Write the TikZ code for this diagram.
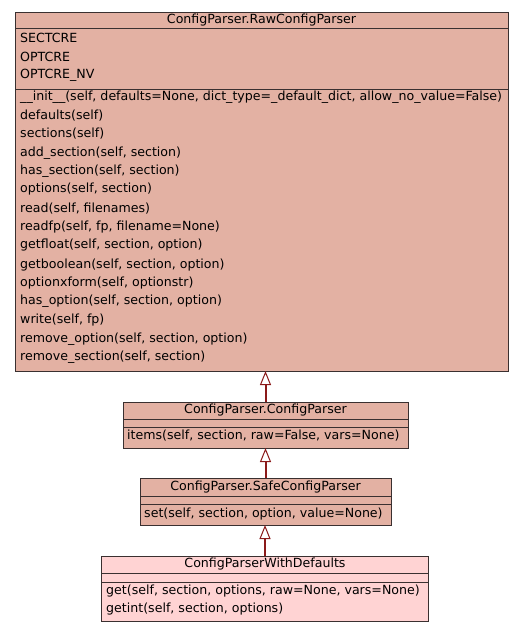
\documentclass[tikz,border=0pt]{standalone}
\usepackage{fontspec}
\setmainfont{DejaVu Sans}
\usetikzlibrary{arrows.meta}
\definecolor{clsfill}{HTML}{E3B1A3}
\definecolor{clspink}{HTML}{FFD3D3}
\definecolor{edgecol}{HTML}{8B1A1A}
\definecolor{bordercol}{HTML}{3A3030}
\begin{document}
\begin{tikzpicture}[x=1pt,y=-1pt,
  font=\fontsize{12.6}{14}\selectfont,
  clsbox/.style={draw=bordercol,line width=1pt,fill=clsfill,anchor=north west,inner sep=0pt,outer sep=0pt},
  divider/.style={draw=bordercol,line width=1pt},
  lbl/.style={anchor=west,inner sep=0pt,text=black},
  ttl/.style={anchor=center,inner sep=0pt,text=black},
  inherit/.style={draw=edgecol,line width=2pt,-{Triangle[open,length=14pt,width=11pt,line width=1pt,fill=white]}}]
\useasboundingbox (0,0) rectangle (528,632);
\fill[white] (0,0) rectangle (528,632);
% Box 1
\node[clsbox,minimum width=493pt,minimum height=359pt] (raw) at (15,12) {};
\draw[divider] (15,28) -- (508,28);
\draw[divider] (15,89) -- (508,89);
\node[ttl] (rawt) at (261.5,20) {ConfigParser.RawConfigParser};
\node[lbl] (a1) at (20,38) {SECTCRE};
\node[lbl] (a2) at (20,57) {OPTCRE};
\node[lbl] (a3) at (20,75) {OPTCRE\_NV};
\node[lbl] (m1) at (20,97) {\_\_init\_\_(self, defaults=None, dict\_type=\_default\_dict, allow\_no\_value=False)};
\node[lbl] (m2) at (20,116) {defaults(self)};
\node[lbl] (m3) at (20,134) {sections(self)};
\node[lbl] (m4) at (20,153) {add\_section(self, section)};
\node[lbl] (m5) at (20,171) {has\_section(self, section)};
\node[lbl] (m6) at (20,189) {options(self, section)};
\node[lbl] (m7) at (20,209) {read(self, filenames)};
\node[lbl] (m8) at (20,227) {readfp(self, fp, filename=None)};
\node[lbl] (m9) at (20,245) {getfloat(self, section, option)};
\node[lbl] (m10) at (20,265) {getboolean(self, section, option)};
\node[lbl] (m11) at (20,283) {optionxform(self, optionstr)};
\node[lbl] (m12) at (20,301) {has\_option(self, section, option)};
\node[lbl] (m13) at (20,320) {write(self, fp)};
\node[lbl] (m14) at (20,339) {remove\_option(self, section, option)};
\node[lbl] (m15) at (20,357) {remove\_section(self, section)};
% Box 2
\node[clsbox,minimum width=285pt,minimum height=46pt] (cp) at (123,402) {};
\draw[divider] (123,419) -- (408,419);
\draw[divider] (123,427) -- (408,427);
\node[ttl] (cpt) at (265.5,410) {ConfigParser.ConfigParser};
\node[lbl] (cpm) at (127,436) {items(self, section, raw=False, vars=None)};
% Box 3
\node[clsbox,minimum width=251pt,minimum height=47pt] (scp) at (140,478) {};
\draw[divider] (140,496) -- (391,496);
\draw[divider] (140,504) -- (391,504);
\node[ttl] (scpt) at (265.5,487) {ConfigParser.SafeConfigParser};
\node[lbl] (scpm) at (144,514) {set(self, section, option, value=None)};
% Box 4
\node[clsbox,fill=clspink,minimum width=327pt,minimum height=65pt] (cpd) at (101.5,556) {};
\draw[divider] (101.5,573) -- (428.5,573);
\draw[divider] (101.5,582) -- (428.5,582);
\node[ttl] (cpdt) at (265,564) {ConfigParserWithDefaults};
\node[lbl] (cpdm1) at (106,591) {get(self, section, options, raw=None, vars=None)};
\node[lbl] (cpdm2) at (106,609) {getint(self, section, options)};
% Edges
\draw[inherit] (cp.north) -- (cp.north |- raw.south);
\draw[inherit] (scp.north) -- (scp.north |- cp.south);
\draw[inherit] (cpd.north) -- (cpd.north |- scp.south);
\end{tikzpicture}
\end{document}
